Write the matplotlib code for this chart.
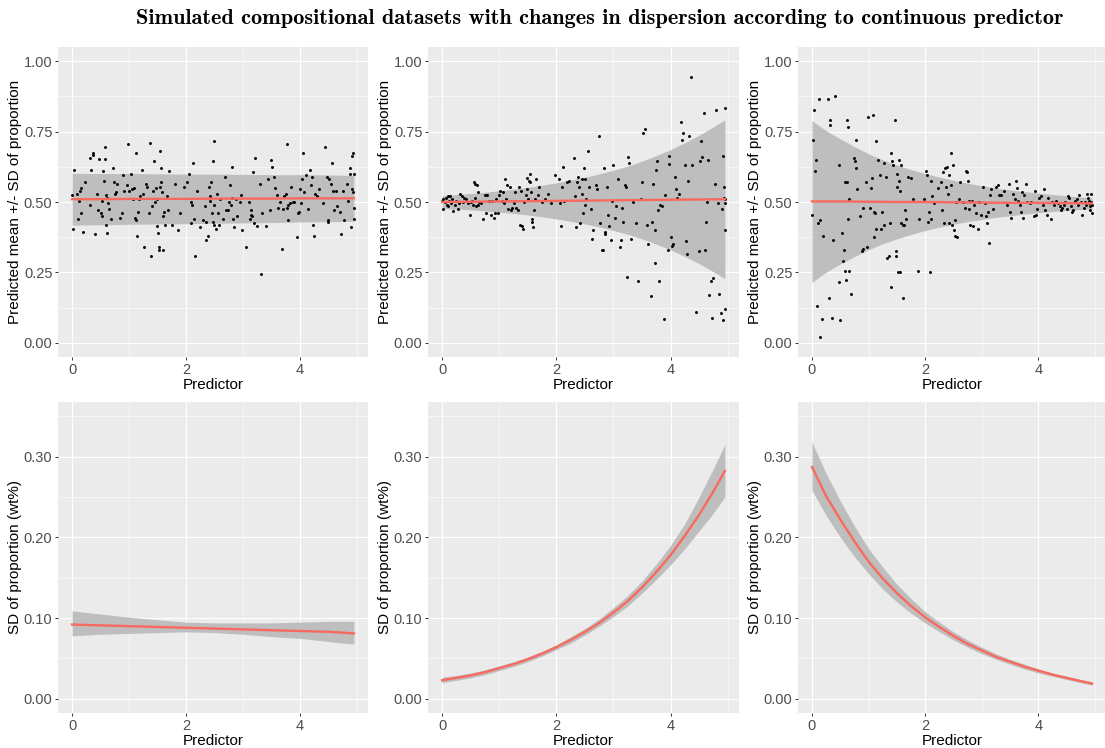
import numpy as np
import matplotlib
matplotlib.use("Agg")
import matplotlib.pyplot as plt
from matplotlib.ticker import FixedLocator

# 预测变量网格（曲线读数点）
x_grid = [0, 0.25, 0.5, 0.75, 1, 1.25, 1.5, 1.75, 2, 2.25, 2.5, 2.75,
          3, 3.25, 3.5, 3.75, 4, 4.25, 4.5, 4.75, 4.95]

# 均值曲线
mean_const = [0.510, 0.510, 0.510, 0.5105, 0.511, 0.511, 0.511, 0.511, 0.511, 0.5115, 0.512,
              0.512, 0.512, 0.512, 0.512, 0.5125, 0.513, 0.513, 0.513, 0.513, 0.513]
mean_incr = [0.500, 0.5005, 0.501, 0.5015, 0.502, 0.5025, 0.503, 0.5035, 0.504, 0.5045, 0.505,
             0.5055, 0.506, 0.5065, 0.507, 0.5075, 0.508, 0.5085, 0.509, 0.5095, 0.510]
mean_decr = [0.502, 0.502, 0.502, 0.5015, 0.501, 0.5005, 0.500, 0.500, 0.500, 0.4995, 0.499,
             0.4985, 0.498, 0.4975, 0.497, 0.497, 0.497, 0.4965, 0.496, 0.4955, 0.495]

# SD 曲线及置信带
sd_const = [0.092, 0.0915, 0.091, 0.0905, 0.090, 0.0895, 0.089, 0.0885, 0.088, 0.0875, 0.087,
            0.0865, 0.086, 0.0855, 0.085, 0.0845, 0.084, 0.0835, 0.083, 0.082, 0.081]
sd_const_lo = [0.078, 0.079, 0.080, 0.0805, 0.081, 0.0815, 0.082, 0.0825, 0.083, 0.0825, 0.082,
               0.081, 0.080, 0.0785, 0.077, 0.076, 0.075, 0.073, 0.071, 0.069, 0.068]
sd_const_hi = [0.109, 0.107, 0.105, 0.103, 0.101, 0.0995, 0.098, 0.0965, 0.095, 0.0945, 0.094,
               0.094, 0.094, 0.094, 0.094, 0.0945, 0.095, 0.0955, 0.096, 0.096, 0.096]

sd_incr = [0.023, 0.026, 0.029, 0.033, 0.038, 0.043, 0.049, 0.056, 0.064, 0.073, 0.083,
           0.094, 0.107, 0.121, 0.138, 0.157, 0.178, 0.202, 0.228, 0.257, 0.282]
sd_incr_lo = [0.020, 0.023, 0.026, 0.030, 0.035, 0.040, 0.046, 0.053, 0.061, 0.069, 0.079,
              0.090, 0.102, 0.115, 0.131, 0.148, 0.166, 0.186, 0.208, 0.230, 0.250]
sd_incr_hi = [0.027, 0.029, 0.032, 0.036, 0.041, 0.046, 0.052, 0.059, 0.067, 0.077, 0.087,
              0.099, 0.113, 0.128, 0.146, 0.167, 0.190, 0.217, 0.250, 0.285, 0.315]

sd_decr = [0.287, 0.251, 0.222, 0.195, 0.170, 0.149, 0.131, 0.115, 0.101, 0.089, 0.078,
           0.068, 0.060, 0.052, 0.046, 0.040, 0.035, 0.030, 0.026, 0.022, 0.019]
sd_decr_lo = [0.258, 0.227, 0.200, 0.176, 0.155, 0.136, 0.120, 0.106, 0.094, 0.083, 0.073,
              0.064, 0.056, 0.049, 0.043, 0.037, 0.032, 0.028, 0.024, 0.020, 0.017]
sd_decr_hi = [0.318, 0.279, 0.245, 0.214, 0.186, 0.163, 0.142, 0.124, 0.108, 0.095, 0.083,
              0.073, 0.064, 0.056, 0.049, 0.043, 0.037, 0.032, 0.028, 0.024, 0.021]

# 散点 (predictor, proportion)
points_const = [
    (0.00, 0.525), (0.03, 0.613), (0.02, 0.403), (0.08, 0.53), (0.10, 0.44), (0.12, 0.505), (0.14, 0.54),
    (0.16, 0.55), (0.16, 0.46), (0.19, 0.393), (0.22, 0.57), (0.31, 0.655), (0.32, 0.49), (0.33, 0.615),
    (0.36, 0.675), (0.37, 0.668), (0.40, 0.385), (0.44, 0.527), (0.46, 0.47), (0.48, 0.652), (0.50, 0.46),
    (0.52, 0.505), (0.53, 0.45), (0.55, 0.61), (0.56, 0.575), (0.57, 0.653), (0.58, 0.695), (0.59, 0.42),
    (0.60, 0.525), (0.61, 0.515), (0.62, 0.39), (0.63, 0.495), (0.65, 0.475), (0.68, 0.44), (0.72, 0.62),
    (0.74, 0.57), (0.76, 0.53), (0.78, 0.535), (0.79, 0.565), (0.84, 0.445), (0.87, 0.46), (0.90, 0.595),
    (0.92, 0.54), (0.96, 0.56), (0.98, 0.705), (1.00, 0.54), (1.03, 0.6), (1.05, 0.545), (1.07, 0.51),
    (1.08, 0.55), (1.11, 0.445), (1.12, 0.435), (1.13, 0.675), (1.14, 0.38), (1.15, 0.465), (1.18, 0.51),
    (1.20, 0.52), (1.22, 0.615), (1.25, 0.53), (1.27, 0.34), (1.30, 0.565), (1.32, 0.555), (1.35, 0.46),
    (1.37, 0.71), (1.38, 0.31), (1.40, 0.485), (1.42, 0.54), (1.44, 0.645), (1.46, 0.5), (1.48, 0.55),
    (1.50, 0.51), (1.50, 0.415), (1.51, 0.39), (1.52, 0.34), (1.53, 0.33), (1.54, 0.555), (1.55, 0.68),
    (1.56, 0.62), (1.57, 0.57), (1.58, 0.535), (1.59, 0.45), (1.60, 0.33), (1.62, 0.465), (1.64, 0.42),
    (1.66, 0.52), (1.68, 0.47), (1.70, 0.61), (1.75, 0.42), (1.80, 0.565), (1.86, 0.40), (1.90, 0.46),
    (1.96, 0.555), (2.02, 0.57), (2.05, 0.6), (2.08, 0.5), (2.09, 0.425), (2.10, 0.49), (2.12, 0.64),
    (2.14, 0.44), (2.16, 0.31), (2.20, 0.54), (2.25, 0.41), (2.30, 0.435), (2.33, 0.485), (2.35, 0.43),
    (2.36, 0.365), (2.38, 0.38), (2.40, 0.555), (2.42, 0.52), (2.43, 0.505), (2.44, 0.57), (2.46, 0.46),
    (2.47, 0.43), (2.48, 0.645), (2.49, 0.715), (2.50, 0.49), (2.50, 0.42), (2.53, 0.405), (2.55, 0.53),
    (2.57, 0.46), (2.58, 0.42), (2.60, 0.51), (2.65, 0.44), (2.68, 0.59), (2.70, 0.47), (2.73, 0.47),
    (2.76, 0.5), (2.78, 0.56), (2.79, 0.49), (2.80, 0.515), (2.81, 0.625), (2.83, 0.44), (2.85, 0.41),
    (2.88, 0.51), (2.90, 0.45), (2.95, 0.5), (2.97, 0.525), (2.99, 0.40), (3.05, 0.34), (3.10, 0.5),
    (3.13, 0.44), (3.14, 0.47), (3.15, 0.455), (3.16, 0.45), (3.18, 0.605), (3.19, 0.425), (3.22, 0.655),
    (3.25, 0.415), (3.30, 0.565), (3.32, 0.245), (3.34, 0.46), (3.40, 0.415), (3.44, 0.58), (3.48, 0.47),
    (3.50, 0.65), (3.52, 0.625), (3.55, 0.59), (3.57, 0.55), (3.60, 0.525), (3.62, 0.48), (3.65, 0.5),
    (3.68, 0.335), (3.70, 0.475), (3.72, 0.52), (3.75, 0.53), (3.77, 0.705), (3.78, 0.48), (3.79, 0.435),
    (3.80, 0.49), (3.83, 0.495), (3.85, 0.555), (3.88, 0.5), (3.90, 0.5), (3.95, 0.375), (3.97, 0.46),
    (3.98, 0.465), (4.00, 0.545), (4.02, 0.495), (4.04, 0.58), (4.05, 0.675), (4.08, 0.535), (4.10, 0.595),
    (4.15, 0.475), (4.18, 0.615), (4.20, 0.56), (4.22, 0.59), (4.24, 0.42), (4.25, 0.38), (4.27, 0.53),
    (4.30, 0.52), (4.33, 0.545), (4.40, 0.495), (4.45, 0.695), (4.48, 0.59), (4.49, 0.43), (4.50, 0.435),
    (4.52, 0.58), (4.55, 0.565), (4.57, 0.64), (4.58, 0.54), (4.60, 0.47), (4.63, 0.54), (4.65, 0.485),
    (4.70, 0.465), (4.72, 0.385), (4.75, 0.54), (4.78, 0.435), (4.82, 0.565), (4.84, 0.505), (4.88, 0.6),
    (4.89, 0.62), (4.90, 0.41), (4.91, 0.545), (4.92, 0.665), (4.93, 0.675), (4.94, 0.535), (4.95, 0.48),
    (4.95, 0.6), (4.95, 0.44),
]

points_incr = [
    (0.00, 0.505), (0.01, 0.475), (0.02, 0.51), (0.05, 0.50), (0.06, 0.515), (0.08, 0.49), (0.10, 0.52),
    (0.11, 0.485), (0.12, 0.505), (0.14, 0.52), (0.15, 0.495), (0.17, 0.51), (0.19, 0.468), (0.22, 0.49),
    (0.25, 0.505), (0.28, 0.475), (0.30, 0.495), (0.32, 0.53), (0.34, 0.52), (0.36, 0.50), (0.38, 0.515),
    (0.42, 0.51), (0.45, 0.495), (0.48, 0.455), (0.50, 0.50), (0.52, 0.505), (0.54, 0.49), (0.56, 0.57),
    (0.57, 0.565), (0.58, 0.515), (0.60, 0.485), (0.61, 0.56), (0.62, 0.49), (0.63, 0.535), (0.65, 0.50),
    (0.68, 0.495), (0.72, 0.44), (0.75, 0.525), (0.77, 0.46), (0.78, 0.525), (0.82, 0.505), (0.85, 0.455),
    (0.88, 0.505), (0.90, 0.445), (0.92, 0.46), (0.95, 0.51), (0.97, 0.46), (0.99, 0.525), (1.02, 0.54),
    (1.04, 0.505), (1.06, 0.535), (1.08, 0.495), (1.10, 0.58), (1.12, 0.51), (1.14, 0.56), (1.16, 0.475),
    (1.18, 0.555), (1.20, 0.47), (1.22, 0.48), (1.25, 0.495), (1.28, 0.535), (1.30, 0.48), (1.33, 0.47),
    (1.35, 0.555), (1.37, 0.42), (1.38, 0.54), (1.40, 0.415), (1.42, 0.405), (1.44, 0.50), (1.46, 0.525),
    (1.48, 0.585), (1.49, 0.545), (1.50, 0.51), (1.52, 0.575), (1.53, 0.57), (1.54, 0.60), (1.56, 0.535),
    (1.57, 0.44), (1.58, 0.43), (1.59, 0.41), (1.60, 0.47), (1.62, 0.51), (1.65, 0.58), (1.68, 0.525),
    (1.70, 0.555), (1.75, 0.50), (1.80, 0.51), (1.85, 0.53), (1.90, 0.495), (1.98, 0.595), (2.05, 0.58),
    (2.07, 0.495), (2.08, 0.415), (2.10, 0.555), (2.12, 0.625), (2.14, 0.505), (2.18, 0.57), (2.22, 0.575),
    (2.30, 0.655), (2.32, 0.52), (2.35, 0.41), (2.36, 0.57), (2.38, 0.59), (2.40, 0.555), (2.42, 0.425),
    (2.44, 0.53), (2.45, 0.58), (2.47, 0.46), (2.48, 0.62), (2.50, 0.49), (2.50, 0.58), (2.52, 0.51),
    (2.55, 0.68), (2.58, 0.555), (2.60, 0.475), (2.62, 0.37), (2.65, 0.40), (2.70, 0.56), (2.72, 0.545),
    (2.75, 0.735), (2.77, 0.425), (2.80, 0.33), (2.82, 0.33), (2.83, 0.62), (2.85, 0.385), (2.86, 0.395),
    (2.88, 0.555), (2.90, 0.455), (2.93, 0.415), (2.95, 0.365), (2.98, 0.505), (3.00, 0.63), (3.02, 0.445),
    (3.05, 0.485), (3.08, 0.58), (3.12, 0.34), (3.13, 0.365), (3.15, 0.48), (3.17, 0.43), (3.20, 0.56),
    (3.22, 0.555), (3.23, 0.235), (3.25, 0.66), (3.27, 0.64), (3.30, 0.37), (3.35, 0.50), (3.40, 0.425),
    (3.43, 0.22), (3.48, 0.51), (3.50, 0.57), (3.52, 0.745), (3.55, 0.76), (3.58, 0.42), (3.60, 0.35),
    (3.65, 0.165), (3.68, 0.43), (3.70, 0.565), (3.72, 0.40), (3.73, 0.285), (3.75, 0.615), (3.77, 0.645),
    (3.78, 0.47), (3.80, 0.22), (3.82, 0.49), (3.85, 0.485), (3.88, 0.085), (3.90, 0.525), (3.95, 0.33),
    (3.97, 0.665), (3.98, 0.635), (4.00, 0.375), (4.02, 0.345), (4.05, 0.35), (4.07, 0.59), (4.10, 0.545),
    (4.12, 0.515), (4.15, 0.53), (4.18, 0.785), (4.20, 0.72), (4.22, 0.745), (4.25, 0.63), (4.27, 0.36),
    (4.28, 0.315), (4.30, 0.575), (4.33, 0.735), (4.35, 0.945), (4.38, 0.63), (4.45, 0.11), (4.50, 0.325),
    (4.52, 0.645), (4.53, 0.715), (4.55, 0.66), (4.58, 0.815), (4.60, 0.33), (4.62, 0.43), (4.63, 0.50),
    (4.65, 0.65), (4.68, 0.17), (4.70, 0.22), (4.72, 0.09), (4.75, 0.23), (4.78, 0.565), (4.80, 0.825),
    (4.83, 0.495), (4.85, 0.175), (4.88, 0.105), (4.90, 0.475), (4.91, 0.08), (4.92, 0.665), (4.93, 0.515),
    (4.94, 0.555), (4.95, 0.40), (4.95, 0.12), (4.95, 0.51), (4.95, 0.835), (4.95, 0.495),
]

points_decr = [
    (0.00, 0.455), (0.02, 0.72), (0.03, 0.825), (0.05, 0.61), (0.07, 0.65), (0.09, 0.13), (0.10, 0.425),
    (0.13, 0.865), (0.14, 0.02), (0.15, 0.435), (0.17, 0.085), (0.20, 0.38), (0.28, 0.865), (0.30, 0.16),
    (0.31, 0.79), (0.32, 0.775), (0.35, 0.09), (0.38, 0.365), (0.40, 0.875), (0.47, 0.215), (0.48, 0.63),
    (0.49, 0.08), (0.53, 0.39), (0.55, 0.29), (0.57, 0.33), (0.58, 0.57), (0.59, 0.255), (0.60, 0.225),
    (0.61, 0.79), (0.62, 0.57), (0.63, 0.44), (0.64, 0.765), (0.65, 0.255), (0.66, 0.51), (0.69, 0.175),
    (0.75, 0.655), (0.76, 0.645), (0.77, 0.62), (0.78, 0.72), (0.80, 0.545), (0.85, 0.45), (0.88, 0.325),
    (0.90, 0.335), (0.91, 0.48), (0.95, 0.57), (0.98, 0.34), (0.99, 0.80), (1.02, 0.48), (1.04, 0.55),
    (1.06, 0.585), (1.08, 0.81), (1.09, 0.465), (1.10, 0.375), (1.12, 0.46), (1.13, 0.405), (1.14, 0.715),
    (1.16, 0.65), (1.20, 0.595), (1.22, 0.405), (1.24, 0.465), (1.27, 0.64), (1.28, 0.42), (1.30, 0.59),
    (1.32, 0.30), (1.37, 0.31), (1.38, 0.425), (1.39, 0.20), (1.40, 0.675), (1.42, 0.645), (1.44, 0.63),
    (1.47, 0.79), (1.48, 0.325), (1.49, 0.31), (1.50, 0.555), (1.51, 0.60), (1.52, 0.25), (1.53, 0.575),
    (1.54, 0.65), (1.55, 0.54), (1.56, 0.25), (1.57, 0.425), (1.58, 0.63), (1.60, 0.16), (1.61, 0.42),
    (1.63, 0.42), (1.65, 0.47), (1.67, 0.44), (1.70, 0.59), (1.75, 0.585), (1.78, 0.51), (1.87, 0.255),
    (1.90, 0.44), (1.98, 0.51), (2.02, 0.61), (2.04, 0.595), (2.05, 0.43), (2.06, 0.465), (2.08, 0.25),
    (2.10, 0.575), (2.11, 0.44), (2.13, 0.52), (2.15, 0.495), (2.22, 0.55), (2.28, 0.57), (2.30, 0.47),
    (2.32, 0.605), (2.33, 0.425), (2.35, 0.62), (2.37, 0.555), (2.39, 0.625), (2.41, 0.53), (2.42, 0.425),
    (2.43, 0.595), (2.45, 0.56), (2.46, 0.675), (2.47, 0.42), (2.49, 0.63), (2.51, 0.40), (2.52, 0.38),
    (2.53, 0.435), (2.55, 0.50), (2.57, 0.375), (2.60, 0.51), (2.62, 0.57), (2.67, 0.50), (2.70, 0.48),
    (2.72, 0.61), (2.74, 0.605), (2.75, 0.575), (2.77, 0.505), (2.78, 0.475), (2.80, 0.42), (2.82, 0.505),
    (2.84, 0.415), (2.87, 0.49), (2.90, 0.46), (2.93, 0.405), (2.95, 0.50), (2.98, 0.455), (3.02, 0.555),
    (3.05, 0.495), (3.07, 0.45), (3.10, 0.425), (3.12, 0.465), (3.13, 0.355), (3.15, 0.525), (3.17, 0.545),
    (3.20, 0.475), (3.25, 0.555), (3.28, 0.56), (3.30, 0.525), (3.35, 0.525), (3.40, 0.54), (3.45, 0.49),
    (3.48, 0.565), (3.50, 0.465), (3.52, 0.445), (3.55, 0.53), (3.58, 0.51), (3.60, 0.575), (3.62, 0.55),
    (3.65, 0.505), (3.68, 0.49), (3.70, 0.465), (3.72, 0.535), (3.73, 0.445), (3.75, 0.525), (3.78, 0.565),
    (3.80, 0.50), (3.85, 0.495), (3.88, 0.50), (3.92, 0.45), (3.94, 0.54), (3.96, 0.455), (3.98, 0.475),
    (4.02, 0.515), (4.05, 0.52), (4.08, 0.49), (4.10, 0.545), (4.12, 0.47), (4.15, 0.455), (4.18, 0.515),
    (4.22, 0.44), (4.25, 0.50), (4.28, 0.49), (4.32, 0.505), (4.35, 0.495), (4.38, 0.485), (4.40, 0.47),
    (4.42, 0.48), (4.45, 0.49), (4.48, 0.50), (4.50, 0.475), (4.52, 0.52), (4.55, 0.515), (4.58, 0.485),
    (4.60, 0.465), (4.62, 0.47), (4.65, 0.505), (4.68, 0.51), (4.70, 0.49), (4.72, 0.525), (4.75, 0.50),
    (4.78, 0.455), (4.80, 0.48), (4.82, 0.50), (4.84, 0.49), (4.86, 0.53), (4.88, 0.515), (4.89, 0.495),
    (4.90, 0.505), (4.91, 0.485), (4.92, 0.47), (4.93, 0.53), (4.94, 0.50), (4.95, 0.46), (4.95, 0.49),
]

title = "Simulated compositional datasets with changes in dispersion according to continuous predictor"

# ggplot 风格
plt.rcParams["font.family"] = ["Liberation Sans", "DejaVu Sans"]
panel_bg = "#EBEBEB"
ribbon_col = "#BEBEBE"
line_col = "#F8695E"

fig = plt.figure(figsize=(11.05, 7.48), dpi=100)
W, H = 1105.0, 748.0

# 像素坐标下的面板位置 (left, right)
cols = [(58, 368), (428, 739), (798, 1106)]
rows = [(47, 357), (402, 713)]


def make_ax(col, row):
    l, r = cols[col]
    t, b = rows[row]
    ax = fig.add_axes([l / W, 1 - b / H, (r - l) / W, (b - t) / H])
    ax.set_facecolor(panel_bg)
    for s in ax.spines.values():
        s.set_visible(False)
    ax.set_xlim(-0.2475, 5.1975)
    ax.xaxis.set_major_locator(FixedLocator([0, 2, 4]))
    ax.xaxis.set_minor_locator(FixedLocator([1, 3, 5]))
    ax.grid(which="major", color="white", linewidth=0.8)
    ax.grid(which="minor", color="white", linewidth=0.4)
    ax.set_axisbelow(True)
    ax.tick_params(which="major", length=2.5, width=0.7, color="#333333",
                   labelsize=10.5, labelcolor="#4D4D4D", pad=1.5)
    ax.tick_params(which="minor", length=0)
    ax.set_xlabel("Predictor", fontsize=11, color="black", labelpad=1)
    return ax


tops = [(points_const, mean_const, sd_const),
        (points_incr, mean_incr, sd_incr),
        (points_decr, mean_decr, sd_decr)]
bottoms = [(sd_const, sd_const_lo, sd_const_hi),
           (sd_incr, sd_incr_lo, sd_incr_hi),
           (sd_decr, sd_decr_lo, sd_decr_hi)]

xg = np.array(x_grid)
for i in range(3):
    pts, mu, sd = tops[i]
    pts = np.array(pts)
    mu = np.array(mu)
    sd = np.array(sd)
    ax = make_ax(i, 0)
    ax.fill_between(xg, mu - sd, mu + sd, color=ribbon_col, linewidth=0, zorder=1)
    ax.scatter(pts[:, 0], pts[:, 1], s=4.5, color="black", linewidths=0, zorder=2)
    ax.plot(xg, mu, color=line_col, linewidth=1.7, zorder=3)
    ax.set_ylim(-0.05, 1.05)
    ax.yaxis.set_major_locator(FixedLocator([0, 0.25, 0.5, 0.75, 1.0]))
    ax.yaxis.set_minor_locator(FixedLocator([0.125, 0.375, 0.625, 0.875]))
    ax.set_yticklabels(["0.00", "0.25", "0.50", "0.75", "1.00"])
    ax.set_ylabel("Predicted mean +/- SD of proportion", fontsize=11, labelpad=1)

    s, lo, hi = bottoms[i]
    ax2 = make_ax(i, 1)
    ax2.fill_between(xg, lo, hi, color=ribbon_col, linewidth=0, zorder=1)
    ax2.plot(xg, s, color=line_col, linewidth=1.7, zorder=3)
    ax2.set_ylim(-0.0175, 0.3675)
    ax2.yaxis.set_major_locator(FixedLocator([0, 0.1, 0.2, 0.3]))
    ax2.yaxis.set_minor_locator(FixedLocator([0.05, 0.15, 0.25, 0.35]))
    ax2.set_yticklabels(["0.00", "0.10", "0.20", "0.30"])
    ax2.set_ylabel("SD of proportion (wt%)", fontsize=11, labelpad=1)

fig.text(600 / W, 1 - 19 / H, title, ha="center", va="center",
         fontsize=16, fontfamily="cmb10")

fig.savefig("out.png", dpi=100)
